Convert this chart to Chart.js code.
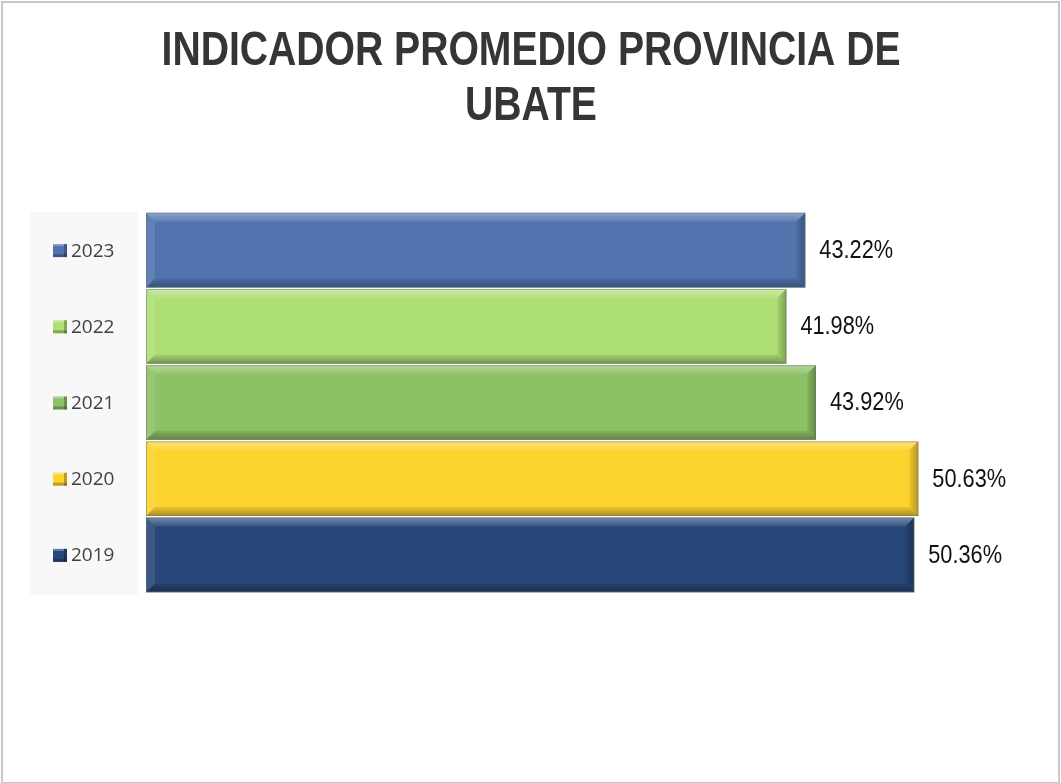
<!DOCTYPE html>
<html>
<head>
<meta charset="utf-8">
<script src="https://cdn.jsdelivr.net/npm/chart.js@4"></script>
<style>
  body { margin: 0; background: #fff; overflow: hidden; }
</style>
</head>
<body>
<canvas id="chartCanvas" width="1061" height="783"></canvas>
<script>
// datos del indicador por año
const years = ['2019', '2020', '2021', '2022', '2023'];
const values = [50.36, 50.63, 43.92, 41.98, 43.22];
const barColors = ['#284679', '#fcd22c', '#8cc165', '#addf74', '#5174af'];
const titleLines = ['INDICADOR PROMEDIO PROVINCIA DE', 'UBATE'];

const baseFont = "'Liberation Sans', Arial, sans-serif";

// texto estrecho (imita Arial Narrow escalando en horizontal)
function narrowText(ctx, text, x, y, squeeze) {
    ctx.save();
    ctx.translate(x, y);
    ctx.scale(squeeze, 1);
    ctx.fillText(text, 0, 0);
    ctx.restore();
}

// marco del grafico, titulo y fondo gris de las etiquetas
const framePlugin = {
    id: 'frame',
    beforeDraw(chart) {
        const ctx = chart.ctx;
        const area = chart.chartArea;
        ctx.save();
        ctx.fillStyle = '#ffffff';
        ctx.fillRect(0, 0, chart.width, chart.height);
        ctx.strokeStyle = '#c8c8c8';
        ctx.lineWidth = 2;
        ctx.strokeRect(2, 2, chart.width - 4, chart.height - 2);
        ctx.fillStyle = '#f8f8f8';
        ctx.fillRect(30, area.top, 108, area.bottom - area.top + 2);

        ctx.fillStyle = '#353535';
        ctx.font = 'bold 48px ' + baseFont;
        ctx.textAlign = 'center';
        ctx.textBaseline = 'middle';
        narrowText(ctx, titleLines[0], 531, 52, 0.815);
        narrowText(ctx, titleLines[1], 531, 107, 0.815);
        ctx.restore();
    }
};

// efecto bisel sobre cada barra
const bevelPlugin = {
    id: 'bevel',
    afterDatasetsDraw(chart) {
        const ctx = chart.ctx;
        const meta = chart.getDatasetMeta(0);
        ctx.save();
        meta.data.forEach(bar => {
            const l = Math.min(bar.base, bar.x);
            const r = Math.max(bar.base, bar.x);
            const t = bar.y - bar.height / 2;
            const b = bar.y + bar.height / 2;
            const s = 9;
            const poly = (pts, fill) => {
                ctx.beginPath();
                ctx.moveTo(pts[0][0], pts[0][1]);
                for (let i = 1; i < pts.length; i++) ctx.lineTo(pts[i][0], pts[i][1]);
                ctx.closePath();
                ctx.fillStyle = fill;
                ctx.fill();
            };
            const top = ctx.createLinearGradient(0, t, 0, t + s);
            top.addColorStop(0, 'rgba(255,255,255,0.35)');
            top.addColorStop(1, 'rgba(255,255,255,0.08)');
            const bottom = ctx.createLinearGradient(0, b - s, 0, b);
            bottom.addColorStop(0, 'rgba(0,0,0,0.08)');
            bottom.addColorStop(1, 'rgba(0,0,0,0.32)');
            const right = ctx.createLinearGradient(r - s, 0, r, 0);
            right.addColorStop(0, 'rgba(0,0,0,0.06)');
            right.addColorStop(1, 'rgba(0,0,0,0.28)');
            poly([[l, t], [r, t], [r - s, t + s], [l + s, t + s]], top);
            poly([[l, t], [l + s, t + s], [l + s, b - s], [l, b]], 'rgba(255,255,255,0.1)');
            poly([[l, b], [l + s, b - s], [r - s, b - s], [r, b]], bottom);
            poly([[r, t], [r, b], [r - s, b - s], [r - s, t + s]], right);
            ctx.strokeStyle = 'rgba(110,110,110,0.5)';
            ctx.lineWidth = 1;
            ctx.strokeRect(l + 0.5, t + 0.5, r - l - 1, b - t - 1);
        });
        ctx.restore();
    }
};

// etiquetas de valor y etiquetas de año con su cuadro de color
const labelsPlugin = {
    id: 'labels',
    afterDraw(chart) {
        const ctx = chart.ctx;
        const meta = chart.getDatasetMeta(0);
        const yScale = chart.scales.y;
        ctx.save();
        ctx.textBaseline = 'middle';
        ctx.textAlign = 'left';
        meta.data.forEach((bar, i) => {
            ctx.font = '25px ' + baseFont;
            ctx.fillStyle = '#111111';
            narrowText(ctx, values[i].toFixed(2) + '%', bar.x + 14, bar.y + 1, 0.87);

            const cy = yScale.getPixelForValue(i);
            ctx.fillStyle = barColors[i];
            ctx.fillRect(53, cy - 6, 14, 13);
            ctx.fillStyle = 'rgba(0,0,0,0.25)';
            ctx.fillRect(53, cy + 4, 14, 3);
            ctx.fillRect(64, cy - 6, 3, 13);
            ctx.fillStyle = 'rgba(255,255,255,0.3)';
            ctx.fillRect(53, cy - 6, 11, 2);
            ctx.font = "19px 'Open Sans', sans-serif";
            ctx.fillStyle = '#404040';
            ctx.fillText(years[i], 71, cy + 1);
        });
        ctx.restore();
    }
};

new Chart(document.getElementById('chartCanvas').getContext('2d'), {
    type: 'bar',
    data: {
        labels: years,
        datasets: [{
            data: values,
            backgroundColor: barColors,
            borderWidth: 0,
            categoryPercentage: 1,
            barPercentage: 0.98
        }]
    },
    options: {
        indexAxis: 'y',
        responsive: false,
        animation: false,
        layout: { padding: { left: 146, right: 76, top: 212, bottom: 190 } },
        scales: {
            x: { display: false, min: 0, max: 55 },
            y: { display: false, reverse: true }
        },
        plugins: {
            legend: { display: false },
            tooltip: { enabled: false },
            title: { display: false }
        }
    },
    plugins: [framePlugin, bevelPlugin, labelsPlugin]
});
</script>
</body>
</html>
